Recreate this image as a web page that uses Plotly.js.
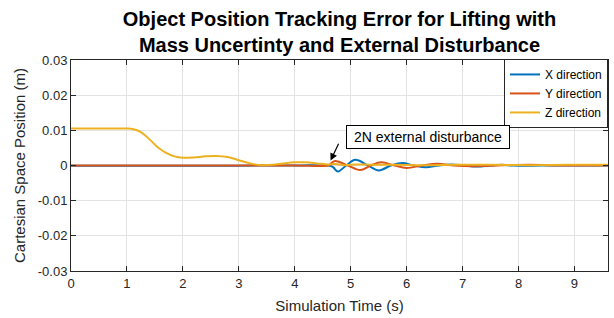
<!DOCTYPE html>
<html>
<head>
<meta charset="utf-8">
<script src="https://cdn.plot.ly/plotly-3.0.1.min.js"></script>
<style>
  html, body { margin: 0; padding: 0; background: #fff; }
  #chart { width: 614px; height: 318px; }
</style>
</head>
<body>
<div id="chart"></div>
<script>
// ---- Data ----
const seriesNames = ["X direction", "Y direction", "Z direction"];

const tX = [0, 1, 2, 3, 4, 4.6, 4.68, 4.77, 4.92, 5.08, 5.3, 5.5, 5.72, 5.92, 6.13, 6.34, 6.57, 6.8, 7.03, 7.25, 7.5, 7.7, 7.9, 8.1, 8.4, 9.0, 9.6];
const xErr = [-0.00008, -0.00008, -0.00006, -0.00004, -0.00002, 0, -0.0004, -0.0017, 0, 0.0016, 0.0001, -0.0014, 0, 0.0007, 0, -0.0005, 0, 0.0003, 0, -0.0003, 0, 0.0002, 0, -0.0001, 0, 0, 0];

const tY = [0, 1, 2, 3, 4, 4.6, 4.63, 4.72, 4.95, 5.17, 5.36, 5.55, 5.78, 6.0, 6.27, 6.55, 6.85, 7.2, 7.6, 8.2, 8.8, 9.6];
const yErr = [0, 0, 0, 0, 0, 0, 0.0003, 0.0013, 0, -0.0013, 0, 0.0009, 0, -0.0007, 0, 0.0005, 0, -0.0002, 0, 0.0002, 0, 0];

const tZ = [0, 0.5, 1.0, 1.1, 1.25, 1.4, 1.55, 1.7, 1.85, 2.0, 2.2, 2.4, 2.6, 2.8, 3.0, 3.2, 3.4, 3.6, 3.8, 4.0, 4.2, 4.4, 4.6, 4.72, 4.9, 5.1, 5.4, 5.8, 6.3, 6.9, 7.5, 8.2, 8.9, 9.6];
const zErr = [0.0105, 0.0105, 0.0105, 0.0104, 0.0095, 0.0075, 0.0052, 0.0036, 0.0026, 0.0022, 0.0023, 0.0026, 0.0027, 0.0024, 0.0015, 0.0006, 0.0001, 0.0002, 0.0006, 0.0009, 0.0009, 0.0006, 0.0003, 0.0004, 0.0001, 0.0003, 0.0002, 0.0002, 0.0001, 0.0002, 0.0002, 0.0001, 0.0002, 0.0002];

const xTicks = [0, 1, 2, 3, 4, 5, 6, 7, 8, 9];
const yTickVals = [0.03, 0.02, 0.01, 0, -0.01, -0.02, -0.03];
const yTickText = ["0.03", "0.02", "0.01", "0", "-0.01", "-0.02", "-0.03"];

const annotationText = "2N external disturbance";
const disturbancePoint = [4.64, 0.0014];
const annotationCenter = [6.38, 0.0082];

// ---- Styling ----
const FONT = "Liberation Sans, Arial, Helvetica, sans-serif";
const AX = "#262626";
const colors = ["#0072BD", "#D95319", "#EDB120"];

const traces = [
  {x: tX, y: xErr, name: seriesNames[0]},
  {x: tY, y: yErr, name: seriesNames[1]},
  {x: tZ, y: zErr, name: seriesNames[2]}
].map((t, i) => Object.assign(t, {
  type: "scatter", mode: "lines",
  line: {color: colors[i], width: 2, shape: "spline", smoothing: 1}
}));

const axisCommon = {
  showline: true, linecolor: AX, linewidth: 1, mirror: "allticks",
  ticks: "inside", ticklen: 5, tickwidth: 1, tickcolor: AX,
  showgrid: true, gridcolor: "#e3e3e3", gridwidth: 1,
  zeroline: false,
  tickfont: {family: FONT, size: 13, color: AX}
};

const layout = {
  width: 614, height: 318,
  margin: {l: 71, r: 6, t: 60, b: 47, pad: 0},
  paper_bgcolor: "#fff", plot_bgcolor: "#fff",
  showlegend: true,
  title: {
    text: "Object Position Tracking Error for Lifting with<br>Mass Uncertinty and External Disturbance",
    font: {family: FONT, size: 20, color: "#000", weight: "bold"},
    x: 0.5, xref: "paper", xanchor: "center",
    y: 0.918, yref: "container", yanchor: "top"
  },
  xaxis: Object.assign({}, axisCommon, {
    range: [0, 9.6], tickvals: xTicks,
    title: {text: "Simulation Time (s)", font: {family: FONT, size: 15, color: AX}, standoff: 10}
  }),
  yaxis: Object.assign({}, axisCommon, {
    range: [-0.03, 0.03], tickvals: yTickVals, ticktext: yTickText,
    title: {text: "Cartesian Space Position (m)", font: {family: FONT, size: 15, color: AX}, standoff: 8}
  }),
  legend: {
    x: 1, xanchor: "right", y: 1.005, yanchor: "top",
    bgcolor: "#fff", bordercolor: AX, borderwidth: 1,
    font: {family: FONT, size: 12, color: "#000"},
    tracegroupgap: 0, itemwidth: 30
  },
  annotations: [
    {
      x: disturbancePoint[0], y: disturbancePoint[1], xref: "x", yref: "y",
      text: " ", showarrow: true, ax: 11, ay: -23,
      arrowhead: 2, arrowsize: 1.2, arrowwidth: 1.2, arrowcolor: "#000", standoff: 0
    },
    {
      x: annotationCenter[0], y: annotationCenter[1], xref: "x", yref: "y",
      text: annotationText, showarrow: false,
      font: {family: FONT, size: 14, color: "#000"},
      bgcolor: "#fff", bordercolor: "#000", borderwidth: 1, borderpad: 3,
      width: 156
    }
  ]
};

Plotly.newPlot("chart", traces, layout, {displayModeBar: false, staticPlot: true});
</script>
</body>
</html>
